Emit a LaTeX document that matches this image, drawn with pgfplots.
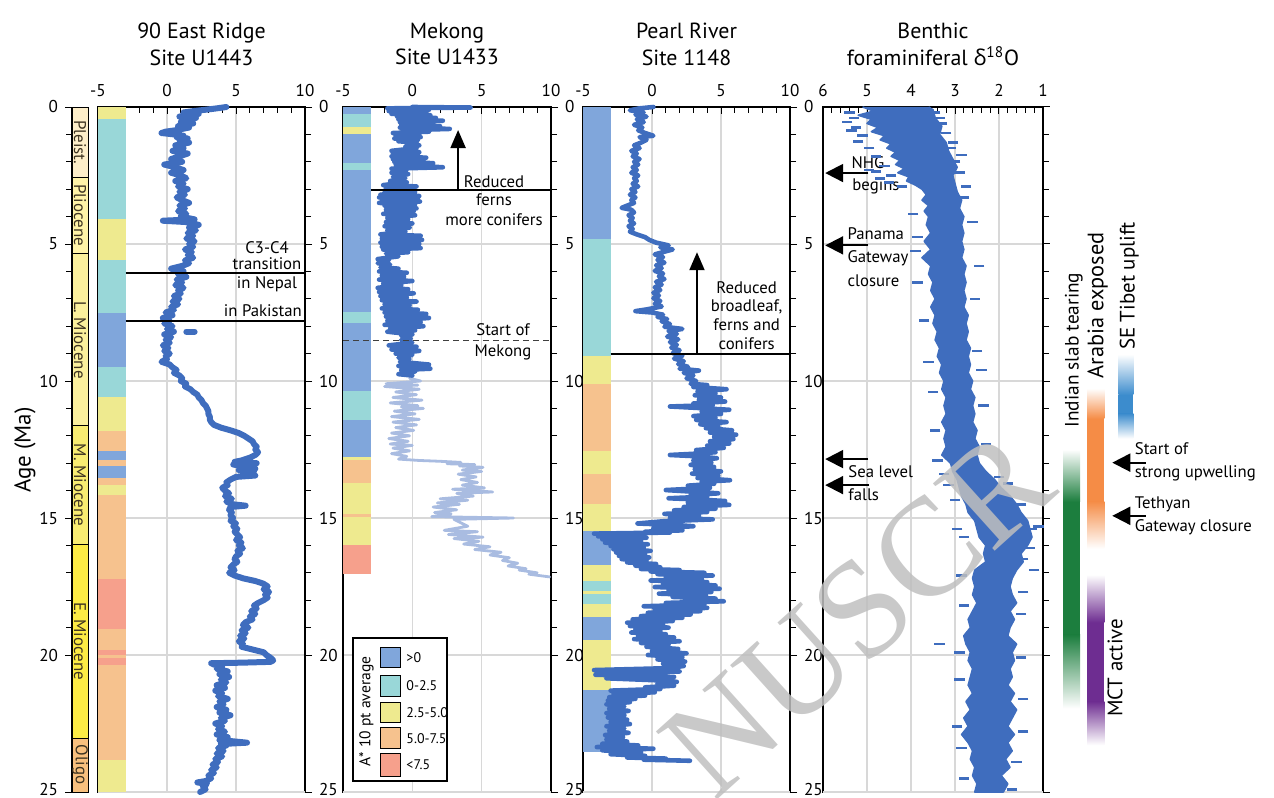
\documentclass[border=0pt]{standalone}
\usepackage{pgfplots}
\pgfplotsset{compat=1.18}
\usepackage{fontspec}
\setmainfont{PT Sans}
\newfontfamily\greekfont{Open Sans}
\newfontfamily\stampfont{Liberation Serif}
\usetikzlibrary{arrows.meta}

% data and A* class colours
\definecolor{dat}{HTML}{3F6DBE}
\definecolor{datlt}{HTML}{A9BCE1}
\definecolor{cBlue}{HTML}{80A6DB}
\definecolor{cTeal}{HTML}{99D7D8}
\definecolor{cYel}{HTML}{EEEA8F}
\definecolor{cOra}{HTML}{F6C28E}
\definecolor{cRed}{HTML}{F6A08C}
\definecolor{gridc}{HTML}{D8D8D8}
% epoch colours
\definecolor{ePle}{HTML}{FDEEC9}
\definecolor{ePli}{HTML}{FFF3A8}
\definecolor{eLM}{HTML}{FBF09D}
\definecolor{eMM}{HTML}{F8EC72}
\definecolor{eEM}{HTML}{FCEB45}
\definecolor{eOli}{HTML}{F8C07E}
\definecolor{epText}{HTML}{3E3422}
% tectonic event bars
\definecolor{tGreen}{HTML}{1C7E3E}
\definecolor{tOrange}{HTML}{F58C46}
\definecolor{tBlue}{HTML}{3C8CCD}
\definecolor{tPurple}{HTML}{6E2D91}

\newcommand\tickfont{\fontsize{8.6}{10}\selectfont}
\newcommand\notefont{\fontsize{8.4}{9.6}\selectfont}
\newcommand\titlefont{\fontsize{11}{13.5}\selectfont}
\newcommand\epochfont{\fontsize{8.5}{9}\selectfont}

\tikzset{note/.style={font=\notefont, inner sep=0pt}}

\pgfplotsset{
  agescale/.style={
    ymin=0, ymax=25, y dir=reverse,
    ytick={0,5,...,20}, minor y tick num=4,
    extra y ticks={25},
    extra y tick style={yticklabel style={yshift=1.5bp}},
  },
  panel/.style={
    scale only axis, width=103.5bp, height=342.5bp,
    anchor=north west, agescale,
    xmin=-5, xmax=10, xtick={-5,0,5,10}, minor x tick num=4,
    xtick pos=right, xticklabel pos=right,
    ytick pos=right, yticklabel pos=right,
    xtick align=inside, ytick align=outside,
    major tick length=3.5bp, minor tick length=3bp,
    tick style={black, line width=0.5bp},
    grid=major, major grid style={gridc, line width=0.6bp},
    axis line style={black, line width=0.9bp},
    tick label style={font=\tickfont},
    /pgf/number format/assume math mode=true,
    xticklabel style={yshift=1.5bp},
    clip=false,
  },
}

% one A* class interval in the strip at the left of a panel
\newcommand\band[3]{\addplot[fill=#1, draw=none, forget plot] coordinates {(-5,#2) (-3,#2) (-3,#3) (-5,#3)};}

\begin{document}
\begin{tikzpicture}

% ---------------- age axis with epochs ----------------
\begin{axis}[
  at={(36bp,345.5bp)}, anchor=north west,
  scale only axis, width=8bp, height=342.5bp,
  xmin=0, xmax=1, agescale,
  hide x axis,
  ytick pos=left, yticklabel pos=left, ytick align=outside,
  major tick length=3.5bp, minor tick length=3bp,
  tick style={black, line width=0.5bp},
  axis line style={black, line width=0.6bp},
  tick label style={font=\tickfont},
  /pgf/number format/assume math mode=true,
  clip=false,
]
\addplot[fill=ePle, draw=black, line width=0.5bp] coordinates {(0,0) (1,0) (1,2.58) (0,2.58) (0,0)};
\addplot[fill=ePli, draw=black, line width=0.5bp] coordinates {(0,2.58) (1,2.58) (1,5.33) (0,5.33) (0,2.58)};
\addplot[fill=eLM, draw=black, line width=0.5bp] coordinates {(0,5.33) (1,5.33) (1,11.63) (0,11.63) (0,5.33)};
\addplot[fill=eMM, draw=black, line width=0.5bp] coordinates {(0,11.63) (1,11.63) (1,15.97) (0,15.97) (0,11.63)};
\addplot[fill=eEM, draw=black, line width=0.5bp] coordinates {(0,15.97) (1,15.97) (1,23.03) (0,23.03) (0,15.97)};
\addplot[fill=eOli, draw=black, line width=0.5bp] coordinates {(0,23.03) (1,23.03) (1,25) (0,25) (0,23.03)};
\node[rotate=-90, font=\epochfont, text=epText] at (axis cs:0.5,1.29) {Pleist.};
\node[rotate=-90, font=\epochfont, text=epText] at (axis cs:0.5,3.95) {Pliocene};
\node[rotate=-90, font=\epochfont, text=epText] at (axis cs:0.5,8.5) {L. Miocene};
\node[rotate=-90, font=\epochfont, text=epText] at (axis cs:0.5,13.8) {M. Miocene};
\node[rotate=-90, font=\epochfont, text=epText] at (axis cs:0.5,19.5) {E. Miocene};
\node[rotate=-90, font=\epochfont, text=epText] at (axis cs:0.5,24.0) {Oligo};
\end{axis}

% ---------------- 90 East Ridge ----------------
\begin{axis}[panel, at={(49bp,345.5bp)}]
\band{cYel}{0}{0.44}
\band{cTeal}{0.44}{4.1}
\band{cYel}{4.1}{5.57}
\band{cTeal}{5.57}{7.53}
\band{cBlue}{7.53}{9.48}
\band{cTeal}{9.48}{10.6}
\band{cYel}{10.6}{11.83}
\band{cOra}{11.83}{12.54}
\band{cBlue}{12.54}{12.9}
\band{cOra}{12.9}{13.1}
\band{cBlue}{13.1}{13.54}
\band{cOra}{13.54}{13.8}
\band{cYel}{13.8}{14.15}
\band{cOra}{14.15}{17.23}
\band{cRed}{17.23}{19.06}
\band{cOra}{19.06}{19.83}
\band{cRed}{19.83}{20.0}
\band{cOra}{20.0}{20.1}
\band{cRed}{20.1}{20.38}
\band{cOra}{20.38}{23.82}
\band{cYel}{23.82}{25}
\addplot[dat, line width=3bp, line join=round, line cap=round] coordinates {
(4.3,0.0) (3.6,0.05) (2.8,0.1) (1.9,0.15) (1.2,0.2) (2.3,0.25) (1.5,0.3) (0.9,0.35) (2.1,0.4) (1.3,0.45)
(1.7,0.5) (1.0,0.55) (1.9,0.6) (1.4,0.65) (0.8,0.7) (1.6,0.75) (1.1,0.8) (0.6,0.85) (-0.1,0.9) (-0.4,0.95)
(0.5,1.0) (1.2,1.05) (0.7,1.1) (1.5,1.15) (0.9,1.2) (1.6,1.3) (0.6,1.4) (1.2,1.5) (0.4,1.6) (1.5,1.7)
(0.9,1.8) (0.3,1.9) (1.1,2.0) (-0.2,2.1) (0.6,2.2) (1.2,2.3) (0.3,2.4) (1.0,2.5) (1.4,2.6) (0.6,2.7)
(1.2,2.8) (0.8,2.9) (1.5,3.0) (0.9,3.1) (1.3,3.2) (0.7,3.3) (1.1,3.4) (1.6,3.5) (0.9,3.6) (1.3,3.7)
(0.8,3.8) (1.4,3.9) (1.0,4.0) (2.0,4.1) (-0.3,4.15) (1.4,4.2) (2.3,4.3) (1.6,4.4) (2.1,4.5) (1.5,4.6)
(1.9,4.7) (1.4,4.8) (2.0,4.9) (1.6,5.0) (1.9,5.1) (1.3,5.2) (1.8,5.3) (1.5,5.4) (1.9,5.5) (1.3,5.6)
(1.6,5.7) (1.1,5.8) (0.3,5.9) (0.6,5.95) (1.2,6.0) (0.8,6.1) (1.4,6.2) (0.7,6.3) (1.1,6.4) (0.6,6.5)
(1.2,6.6) (0.8,6.7) (1.0,6.8) (0.5,6.9) (0.9,7.0) (0.4,7.1) (0.8,7.2) (0.3,7.3) (0.5,7.4) (-0.1,7.5)
(0.4,7.6) (-0.3,7.7) (0.2,7.8) (-0.2,7.9) (0.4,8.0) (0.0,8.1) (0.5,8.2) (-0.2,8.3) (0.3,8.4) (-0.1,8.5)
(0.2,8.6) (-0.3,8.7) (0.1,8.8) (-0.2,8.9) (0.2,9.0) (-0.1,9.1) (0.0,9.2) (-0.4,9.3) (0.2,9.4) (0.4,9.5)
(0.7,9.6) (0.5,9.7) (0.9,9.8) (1.1,9.9) (1.0,10.0) (1.4,10.1) (1.3,10.2) (1.7,10.3) (1.9,10.4) (2.2,10.5)
(2.3,10.6) (2.5,10.7) (2.6,10.8) (2.8,10.9) (2.9,11.0) (3.0,11.1) (3.0,11.2) (3.1,11.3) (3.1,11.4) (3.2,11.5)
(3.4,11.6) (3.9,11.7) (4.6,11.8) (5.2,11.9) (5.6,12.0) (5.9,12.1) (6.2,12.2) (6.3,12.3) (6.5,12.4) (6.4,12.5)
(6.6,12.6) (6.4,12.7) (6.0,12.8) (5.4,12.9) (4.9,12.95) (6.5,13.0) (4.8,13.05) (5.6,13.1) (6.4,13.2) (5.2,13.25)
(6.3,13.3) (5.5,13.4) (6.4,13.45) (5.0,13.5) (4.6,13.6) (4.3,13.7) (4.4,13.8) (4.0,13.9) (4.2,14.0) (4.5,14.1)
(4.2,14.2) (4.7,14.3) (4.3,14.4) (4.8,14.5) (5.7,14.55) (4.6,14.6) (4.5,14.7) (4.7,14.8) (4.6,14.9) (4.8,15.0)
(4.6,15.1) (5.0,15.2) (4.8,15.3) (5.1,15.4) (4.9,15.5) (5.1,15.6) (5.3,15.7) (5.0,15.8) (5.4,15.9) (5.2,16.0)
(5.5,16.1) (5.1,16.2) (5.3,16.3) (5.0,16.4) (4.9,16.5) (5.1,16.6) (4.8,16.7) (4.6,16.8) (4.9,16.9) (4.5,17.0)
(4.9,17.1) (5.5,17.2) (6.4,17.3) (7.0,17.4) (7.3,17.5) (7.0,17.6) (7.4,17.7) (7.1,17.8) (7.3,17.9) (7.0,18.0)
(6.6,18.1) (6.3,18.2) (6.5,18.3) (6.1,18.4) (6.4,18.5) (6.0,18.6) (6.2,18.7) (5.7,18.8) (5.5,18.9) (5.9,19.0)
(5.4,19.1) (5.7,19.2) (5.3,19.3) (5.6,19.4) (5.2,19.5) (5.5,19.6) (5.4,19.7) (6.2,19.8) (7.0,19.9) (7.2,20.0)
(7.5,20.1) (7.7,20.2) (7.5,20.25) (5.4,20.28) (3.2,20.3) (3.4,20.35) (4.0,20.4) (3.6,20.5) (4.4,20.6) (3.8,20.7)
(4.5,20.8) (3.9,20.9) (4.3,21.0) (3.6,21.1) (4.2,21.2) (3.5,21.3) (4.0,21.4) (3.7,21.5) (4.4,21.6) (3.8,21.7)
(4.1,21.8) (3.6,21.9) (4.3,22.0) (3.8,22.1) (4.6,22.2) (3.9,22.3) (4.2,22.4) (3.5,22.5) (4.0,22.6) (3.7,22.7)
(4.2,22.8) (3.6,22.9) (4.4,23.0) (3.8,23.1) (5.8,23.2) (3.9,23.25) (4.3,23.3) (3.7,23.4) (4.1,23.5) (3.6,23.6)
(4.0,23.7) (3.5,23.8) (3.7,23.9) (3.3,24.0) (3.6,24.1) (3.2,24.2) (3.4,24.3) (3.0,24.4) (3.2,24.5) (2.8,24.6)
(2.2,24.65) (2.9,24.7) (2.6,24.8) (2.8,24.9) (2.4,25.0)};
\addplot[dat, line width=3bp, line cap=round] coordinates {(1.4,8.2) (2.0,8.2)};
\draw[line width=1bp] (axis cs:-3,6.05) -- (axis cs:10,6.05);
\draw[line width=1bp] (axis cs:-3,7.8) -- (axis cs:10,7.8);
\node[note, anchor=base] at (axis cs:7.25,5.36) {C3-C4};
\node[note, anchor=base] at (axis cs:7.25,5.92) {transition};
\node[note, anchor=base] at (axis cs:7.25,6.63) {in Nepal};
\node[note, anchor=base east] at (axis cs:9.8,7.65) {in Pakistan};
\end{axis}

% ---------------- Mekong ----------------
\begin{axis}[panel, at={(171.5bp,345.5bp)}, width=104bp]
\band{cBlue}{0}{0.25}
\band{cTeal}{0.25}{0.72}
\band{cYel}{0.72}{1.0}
\band{cBlue}{1.0}{2.05}
\band{cTeal}{2.05}{2.3}
\band{cBlue}{2.3}{7.48}
\band{cTeal}{7.48}{7.9}
\band{cBlue}{7.9}{10.38}
\band{cTeal}{10.38}{11.42}
\band{cBlue}{11.42}{12.78}
\band{cYel}{12.78}{12.9}
\band{cOra}{12.9}{13.72}
\band{cYel}{13.72}{14.85}
\band{cOra}{14.85}{14.95}
\band{cYel}{14.95}{15.97}
\band{cRed}{15.97}{17.04}
\addplot[datlt, line width=1.4bp, line join=round, line cap=round] coordinates {
(-0.2,9.9) (0.6,10.0) (-1.9,10.1) (0.4,10.15) (-2.0,10.2) (0.5,10.3) (-1.2,10.4) (0.3,10.5) (-1.4,10.6) (0.7,10.7)
(-1.6,10.8) (0.4,10.9) (-0.8,10.95) (0.8,11.0) (-1.3,11.1) (0.2,11.2) (-1.5,11.3) (0.5,11.4) (-1.4,11.5) (0.3,11.6)
(-1.2,11.7) (0.1,11.8) (-1.5,11.9) (-0.2,12.0) (-1.7,12.1) (-0.3,12.2) (-1.6,12.3) (0.0,12.35) (-1.4,12.45) (-0.2,12.55)
(-1.5,12.65) (-0.4,12.75) (-1.0,12.85) (0.5,12.9) (2.0,12.93) (3.5,12.97) (2.5,13.02) (4.5,13.05) (3.4,13.1) (5.1,13.15)
(3.6,13.25) (5.0,13.3) (3.3,13.4) (4.6,13.5) (3.5,13.6) (4.7,13.7) (3.6,13.8) (5.2,13.9) (2.9,13.95) (5.8,14.05)
(3.2,14.1) (4.4,14.2) (2.0,14.3) (4.0,14.35) (1.8,14.45) (3.4,14.5) (1.5,14.6) (3.2,14.7) (1.6,14.8) (2.8,14.85)
(1.4,14.95) (7.3,15.0) (3.0,15.05) (4.0,15.3) (2.3,15.45) (4.7,15.5) (2.6,15.6) (5.1,15.7) (3.0,15.75) (4.8,15.85)
(3.7,15.95) (5.6,16.05) (4.5,16.15) (6.4,16.25) (5.6,16.35) (7.0,16.45) (6.5,16.55) (7.6,16.65) (6.9,16.75) (8.2,16.85)
(7.7,16.9) (9.0,17.0) (8.4,17.05) (9.9,17.15)};
\addplot[dat, line width=2.3bp, line join=round, line cap=round] coordinates {
(0,0) (4.2,0.02) (-1.8,0.05) (1.2,0.1) (-1.7,0.15) (1.0,0.2) (-1.5,0.25) (1.3,0.3) (-1.1,0.35) (1.7,0.4)
(-1.0,0.45) (2.2,0.5) (-0.9,0.55) (1.5,0.6) (-0.8,0.65) (2.0,0.7) (-0.9,0.75) (2.7,0.8) (-0.7,0.85) (1.2,0.9)
(-1.4,0.95) (0.5,1.0) (-1.2,1.05) (0.6,1.1) (-1.3,1.15) (0.4,1.2) (-1.0,1.25) (0.3,1.3) (-0.4,1.35) (0.5,1.4)
(-0.5,1.45) (0.3,1.5) (-1.5,1.6) (0.5,1.65) (-1.4,1.7) (0.4,1.75) (-1.5,1.8) (1.0,1.85) (-1.4,1.9) (0.8,1.95)
(-1.3,2.0) (1.5,2.05) (-1.2,2.1) (2.2,2.2) (-1.5,2.25) (-0.4,2.3) (-1.5,2.4) (-0.3,2.45) (-1.4,2.55) (-0.5,2.6)
(-1.6,2.7) (-0.4,2.75) (-2.1,2.85) (0.3,2.9) (-1.9,2.95) (0.1,3.0) (-2.0,3.05) (0.2,3.1) (-2.3,3.2) (0.5,3.25)
(-2.4,3.3) (0.4,3.35) (-2.2,3.4) (0.55,3.45) (-2.4,3.5) (0.2,3.55) (-2.0,3.6) (0.3,3.7) (-1.9,3.75) (0.1,3.8)
(-2.1,3.9) (0.2,3.95) (-1.8,4.05) (-0.3,4.1) (-1.9,4.2) (0.0,4.25) (-2.0,4.35) (-0.2,4.4) (-1.8,4.5) (-0.5,4.55)
(-2.3,4.65) (0.6,4.7) (-2.2,4.8) (0.7,4.85) (-2.3,4.95) (0.5,5.0) (-2.2,5.1) (0.6,5.15) (-2.1,5.2) (-0.3,5.3)
(-1.9,5.35) (-1.0,5.45) (-2.5,5.55) (-1.7,5.6) (-2.5,5.7) (-1.6,5.75) (-2.3,5.85) (-1.0,5.9) (-2.4,6.0) (-0.4,6.05)
(-2.2,6.15) (-0.6,6.2) (-2.4,6.3) (0.0,6.35) (-2.1,6.45) (-0.8,6.5) (-2.5,6.6) (-0.3,6.65) (-2.4,6.75) (0.1,6.8)
(-2.3,6.9) (-0.4,6.95) (-2.2,7.05) (0.3,7.1) (-2.0,7.2) (-0.2,7.25) (-2.2,7.35) (0.4,7.4) (-2.0,7.5) (1.0,7.55)
(-1.9,7.65) (1.2,7.7) (-1.8,7.8) (0.6,7.85) (-2.0,7.95) (0.8,8.0) (-1.6,8.1) (0.2,8.15) (-1.8,8.2) (0.0,8.3)
(-0.8,8.35) (-0.1,8.45) (-0.8,8.5) (0.0,8.6) (-1.7,8.7) (0.3,8.75) (-1.5,8.85) (0.5,8.9) (-1.2,9.0) (0.0,9.05)
(-1.0,9.15) (-0.2,9.2) (-0.9,9.3) (1.2,9.4) (-1.0,9.45) (1.3,9.55) (-0.8,9.6) (0.2,9.65) (-1.0,9.75) (0.0,9.8)};
\draw[line width=1bp] (axis cs:-3,3.03) -- (axis cs:10,3.03);
\draw[line width=1bp, -{Triangle[length=9bp,width=7.5bp]}] (axis cs:3.3,3.03) -- (axis cs:3.3,0.84);
\node[note, anchor=base] at (axis cs:5.89,2.92) {Reduced};
\node[note, anchor=base] at (axis cs:5.89,3.61) {ferns};
\node[note, anchor=base] at (axis cs:5.89,4.31) {more conifers};
\draw[line width=0.7bp, black!75, dash pattern=on 3bp off 2bp] (axis cs:-5,8.53) -- (axis cs:10,8.53);
\node[note, anchor=base] at (axis cs:6.54,8.34) {Start of};
\node[note, anchor=base] at (axis cs:6.54,9.09) {Mekong};
% A* legend
\draw[black, line width=0.6bp, fill=white] (axis cs:-4.28,19.38) rectangle (axis cs:2.5,24.6);
\node[rotate=90, font=\fontsize{7.8}{9}\selectfont] at (axis cs:-3.3,22.06) {A* 10 pt average};
\draw[fill=cBlue, line width=0.5bp] (axis cs:-2.33,19.74) rectangle (axis cs:-0.82,20.44);
\draw[fill=cTeal, line width=0.5bp] (axis cs:-2.33,20.73) rectangle (axis cs:-0.82,21.5);
\draw[fill=cYel, line width=0.5bp] (axis cs:-2.33,21.72) rectangle (axis cs:-0.82,22.48);
\draw[fill=cOra, line width=0.5bp] (axis cs:-2.33,22.66) rectangle (axis cs:-0.82,23.43);
\draw[fill=cRed, line width=0.5bp] (axis cs:-2.33,23.61) rectangle (axis cs:-0.82,24.42);
\node[anchor=west, inner sep=0pt, font=\fontsize{7}{8}\selectfont] at (axis cs:-0.45,20.09) {>0};
\node[anchor=west, inner sep=0pt, font=\fontsize{7}{8}\selectfont] at (axis cs:-0.45,21.11) {0-2.5};
\node[anchor=west, inner sep=0pt, font=\fontsize{7}{8}\selectfont] at (axis cs:-0.45,22.1) {2.5-5.0};
\node[anchor=west, inner sep=0pt, font=\fontsize{7}{8}\selectfont] at (axis cs:-0.45,23.05) {5.0-7.5};
\node[anchor=west, inner sep=0pt, font=\fontsize{7}{8}\selectfont] at (axis cs:-0.45,24.0) {<7.5};
\end{axis}

% ---------------- Pearl River ----------------
\begin{axis}[panel, at={(291.5bp,345.5bp)}]
\band{cBlue}{0}{4.8}
\band{cTeal}{4.8}{9.1}
\band{cYel}{9.1}{10.1}
\band{cOra}{10.1}{12.55}
\band{cYel}{12.55}{13.4}
\band{cOra}{13.4}{14.5}
\band{cYel}{14.5}{15.47}
\band{cBlue}{15.47}{16.7}
\band{cYel}{16.7}{17.3}
\band{cTeal}{17.3}{17.67}
\band{cYel}{17.67}{17.78}
\band{cTeal}{17.78}{18.13}
\band{cYel}{18.13}{18.62}
\band{cBlue}{18.62}{19.47}
\band{cYel}{19.47}{21.28}
\band{cBlue}{21.28}{23.53}
\addplot[dat, line width=2.3bp, line join=round, line cap=round] coordinates {
(0.1,0.0) (-0.9,0.05) (-1.6,0.12) (-0.6,0.2) (-1.2,0.28) (-0.4,0.35) (-1.1,0.45) (-0.6,0.55) (-1.3,0.65) (-0.7,0.75)
(-1.0,0.85) (-0.5,0.95) (0.1,1.05) (-0.9,1.1) (-0.4,1.2) (-0.8,1.3) (-1.3,1.4) (-0.9,1.5) (-1.5,1.6) (-1.1,1.7)
(-1.4,1.8) (-0.9,1.9) (-1.3,2.0) (-1.0,2.1) (-1.4,2.2) (-1.1,2.3) (-1.5,2.4) (-1.0,2.5) (-1.3,2.6) (-1.1,2.7)
(-1.4,2.8) (-1.0,2.9) (-1.5,3.0) (-1.2,3.1) (-1.6,3.2) (-1.2,3.3) (-1.5,3.4) (-1.3,3.5) (-1.8,3.6) (-2.2,3.68)
(-1.5,3.75) (-1.3,3.85) (-1.7,3.95) (-1.4,4.05) (-1.6,4.15) (-1.3,4.25) (-1.7,4.35) (-1.4,4.45) (-1.6,4.55) (-1.1,4.65)
(-0.5,4.75) (-0.2,4.85) (0.3,4.95) (1.2,5.05) (0.6,5.12) (1.5,5.2) (0.9,5.28) (0.2,5.38) (0.8,5.48) (0.4,5.58)
(0.9,5.68) (0.3,5.78) (0.7,5.88) (0.2,5.98) (0.8,6.08) (0.5,6.18) (0.9,6.28) (0.3,6.38) (0.7,6.48) (0.2,6.58)
(0.6,6.68) (0.1,6.78) (0.5,6.88) (0.1,6.98) (0.6,7.08) (0.2,7.18) (0.7,7.28) (-0.3,7.38) (-1.2,7.45) (0.0,7.5)
(0.8,7.58) (0.4,7.66) (1.1,7.74) (0.7,7.82) (1.3,7.92) (0.9,8.02) (2.2,8.1) (1.2,8.18) (1.8,8.28) (1.1,8.38)
(1.9,8.48) (1.3,8.58) (1.8,8.68) (1.4,8.78) (2.0,8.88) (1.5,8.98) (2.2,9.08) (1.6,9.18) (2.3,9.28) (1.9,9.38)
(2.6,9.48) (2.0,9.55) (3.4,9.62) (2.3,9.7) (3.0,9.8) (2.5,9.9) (3.2,10.0) (2.8,10.1) (4.0,10.15) (3.0,10.22)
(5.4,10.3) (3.3,10.38) (4.6,10.45) (3.1,10.52) (5.0,10.6) (3.4,10.68) (5.3,10.75) (3.0,10.82) (4.4,10.88) (1.3,10.93)
(3.2,10.98) (5.6,11.05) (3.6,11.12) (5.0,11.2) (3.0,11.28) (4.6,11.35) (3.2,11.42) (5.4,11.5) (3.5,11.58) (4.8,11.65)
(3.9,11.72) (5.8,11.8) (4.2,11.88) (6.1,11.96) (4.5,12.04) (5.9,12.12) (4.2,12.2) (5.6,12.28) (4.0,12.36) (5.2,12.44)
(3.2,12.52) (4.6,12.6) (2.9,12.66) (1.3,12.7) (3.4,12.75) (4.7,12.82) (3.0,12.9) (4.3,12.98) (2.8,13.06) (4.5,13.14)
(3.1,13.22) (5.0,13.3) (2.9,13.38) (4.8,13.46) (3.3,13.54) (5.65,13.62) (3.6,13.68) (4.5,13.75) (2.6,13.82) (4.2,13.9)
(1.0,13.98) (3.0,14.04) (4.8,14.1) (2.8,14.16) (4.0,14.22) (1.2,14.28) (3.2,14.32) (5.3,14.38) (2.6,14.44) (5.6,14.52)
(2.3,14.6) (4.6,14.66) (1.6,14.72) (4.0,14.78) (0.9,14.85) (3.4,14.92) (1.3,15.0) (4.4,15.05) (0.8,15.12) (-1.05,15.2)
(1.5,15.25) (3.0,15.3) (0.1,15.38) (2.2,15.45) (-0.5,15.5) (1.3,15.53) (-4.2,15.57) (-1.0,15.62) (-3.9,15.67) (-0.4,15.72)
(-3.6,15.78) (-0.8,15.84) (-3.4,15.9) (-0.3,15.96) (-3.0,16.02) (-0.6,16.08) (-2.8,16.14) (-0.1,16.2) (-2.6,16.26) (-0.5,16.32)
(-2.4,16.38) (-0.2,16.44) (-2.2,16.5) (-0.4,16.56) (-1.8,16.62) (0.3,16.68) (-1.2,16.74) (0.6,16.8) (-0.8,16.86) (2.0,16.9)
(-0.1,16.95) (3.8,17.0) (0.4,17.05) (4.4,17.1) (1.0,17.16) (3.6,17.22) (-0.1,17.28) (4.0,17.34) (0.8,17.4) (4.6,17.46)
(0.2,17.52) (4.9,17.58) (1.2,17.64) (4.3,17.7) (0.5,17.76) (3.9,17.82) (1.5,17.88) (4.6,17.94) (2.4,18.0) (5.2,18.04)
(1.0,18.1) (3.8,18.16) (-0.6,18.22) (4.0,18.28) (0.2,18.34) (3.5,18.4) (-0.3,18.46) (2.8,18.52) (-0.8,18.58) (2.2,18.64)
(-1.4,18.7) (1.5,18.76) (-1.8,18.82) (0.8,18.88) (-1.6,18.94) (1.2,19.0) (-1.2,19.06) (0.6,19.12) (-1.5,19.18) (1.0,19.24)
(-1.0,19.3) (1.6,19.36) (-1.3,19.42) (2.0,19.5) (-0.8,19.56) (1.2,19.62) (-0.4,19.7) (1.9,19.78) (0.0,19.86) (2.5,19.94)
(-0.3,20.0) (2.2,20.08) (0.4,20.16) (2.4,20.24) (0.8,20.32) (2.3,20.4) (1.2,20.48) (-4.2,20.55) (2.0,20.6) (-3.6,20.66)
(-4.1,20.72) (1.6,20.8) (-3.3,20.85) (0.2,20.92) (1.8,20.98) (0.4,21.05) (1.6,21.12) (-0.5,21.18) (0.6,21.24) (-3.0,21.3)
(0.2,21.36) (-2.8,21.42) (-0.5,21.48) (-3.1,21.54) (-1.2,21.6) (-3.2,21.66) (-1.6,21.72) (-3.3,21.8) (-2.0,21.88) (-3.1,21.96)
(-1.7,22.04) (-3.3,22.12) (-2.0,22.2) (-3.2,22.28) (-1.8,22.36) (-3.0,22.44) (-1.6,22.52) (-3.3,22.6) (-2.0,22.68) (-3.1,22.76)
(-1.7,22.84) (-3.4,22.92) (-2.1,23.0) (-3.3,23.08) (-1.8,23.16) (-3.6,23.24) (-1.0,23.3) (-4.0,23.36) (0.1,23.42) (-3.6,23.48)
(-0.8,23.55) (-3.0,23.62) (-0.5,23.68) (-1.8,23.74) (1.0,23.78) (-0.6,23.82) (2.75,23.86)};
\draw[line width=1bp] (axis cs:-3,9.03) -- (axis cs:10,9.03);
\draw[line width=1bp, -{Triangle[length=9bp,width=7.5bp]}] (axis cs:3.26,9.03) -- (axis cs:3.26,5.3);
\node[note, anchor=base] at (axis cs:6.86,6.79) {Reduced};
\node[note, anchor=base] at (axis cs:6.86,7.45) {broadleaf,};
\node[note, anchor=base] at (axis cs:6.86,8.14) {ferns and};
\node[note, anchor=base] at (axis cs:6.86,8.84) {conifers};
\end{axis}

% ---------------- benthic d18O ----------------
\begin{axis}[panel, at={(411.5bp,345.5bp)}, width=110bp,
  xmin=1, xmax=6, x dir=reverse, xtick={1,2,3,4,5,6}, minor x tick num=4,
  yticklabels={}, extra y tick labels={}]
% dense core of the record
\addplot[fill=dat, draw=dat, line width=0.8bp, line join=round] coordinates {
(5.1,0) (4.85,0.15) (5.2,0.3) (4.9,0.45) (5.0,0.6) (4.75,0.75) (4.9,0.9) (4.6,1.05) (4.7,1.2) (4.45,1.35)
(4.55,1.5) (4.35,1.65) (4.45,1.8) (4.25,1.95) (4.35,2.1) (4.15,2.25) (4.3,2.4) (4.05,2.55) (4.1,2.7) (3.9,2.85)
(3.75,3.0) (3.65,3.2) (3.75,3.4) (3.6,3.6) (3.7,3.8) (3.6,4.0) (3.65,4.3) (3.55,4.6) (3.7,4.9) (3.55,5.2)
(3.75,5.5) (3.55,5.8) (3.6,6.1) (3.5,6.4) (3.55,6.7) (3.45,7.0) (3.55,7.3) (3.45,7.6) (3.5,7.9) (3.4,8.2)
(3.45,8.5) (3.35,8.8) (3.4,9.1) (3.3,9.4) (3.35,9.7) (3.25,10.0) (3.3,10.3) (3.2,10.6) (3.25,10.9) (3.2,11.2)
(3.3,11.5) (3.2,11.8) (3.25,12.1) (3.2,12.4) (3.3,12.7) (3.1,13.0) (3.05,13.3) (2.95,13.6) (2.9,13.9) (2.85,14.2)
(2.75,14.5) (2.7,14.8) (2.55,15.1) (2.5,15.4) (2.45,15.7) (2.3,16.0) (2.35,16.3) (2.3,16.6) (2.55,16.9) (2.6,17.2)
(2.55,17.5) (2.6,17.8) (2.5,18.1) (2.6,18.4) (2.7,18.7) (2.65,19.0) (2.8,19.3) (2.75,19.6) (2.65,19.9) (2.7,20.2)
(2.6,20.5) (2.65,20.8) (2.7,21.1) (2.6,21.4) (2.75,21.7) (2.65,22.0) (2.8,22.3) (2.7,22.6) (2.85,22.9) (2.7,23.2)
(2.6,23.5) (2.65,23.8) (2.55,24.1) (2.6,24.4) (2.5,24.7) (2.55,25.0)
(1.9,25.0) (1.8,24.7) (1.95,24.4) (1.75,24.1) (1.85,23.8) (1.7,23.5) (1.8,23.2) (1.65,22.9) (1.8,22.6) (1.7,22.3)
(1.6,22.0) (1.75,21.7) (1.65,21.4) (1.8,21.1) (1.7,20.8) (1.75,20.5) (1.65,20.2) (1.7,19.9) (1.6,19.6) (1.8,19.3)
(1.75,19.0) (1.65,18.7) (1.75,18.4) (1.6,18.1) (1.7,17.8) (1.75,17.5) (1.7,17.2) (1.6,16.9) (1.45,16.6) (1.5,16.3)
(1.35,16.0) (1.25,15.7) (1.3,15.4) (1.35,15.1) (1.5,14.8) (1.6,14.5) (1.75,14.2) (1.95,13.9) (2.1,13.6) (2.3,13.3)
(2.45,13.0) (2.5,12.7) (2.45,12.4) (2.55,12.1) (2.5,11.8) (2.6,11.5) (2.55,11.2) (2.6,10.9) (2.55,10.6) (2.65,10.3)
(2.6,10.0) (2.7,9.7) (2.65,9.4) (2.7,9.1) (2.65,8.8) (2.75,8.5) (2.7,8.2) (2.75,7.9) (2.7,7.6) (2.8,7.3)
(2.75,7.0) (2.8,6.7) (2.75,6.4) (2.8,6.1) (2.75,5.8) (2.85,5.5) (2.8,5.2) (2.85,4.9) (2.8,4.6) (2.85,4.3)
(2.8,4.0) (2.9,3.7) (2.85,3.4) (2.95,3.1) (3.0,2.8) (3.05,2.5) (2.95,2.2) (3.05,1.9) (3.15,1.6) (3.2,1.3)
(3.35,1.0) (3.3,0.7) (3.45,0.4) (3.5,0.1) (3.6,0.0)};
% scattered samples outside the core
\addplot[dat, only marks, mark=-, mark size=2.6bp, mark options={line width=1.3bp}] coordinates {
(5.4,0.2) (5.3,0.4) (5.45,0.55) (5.25,0.75) (5.35,0.85) (5.1,1.05) (5.2,1.25) (4.95,1.5) (4.8,1.8) (4.6,2.15)
(4.95,2.3) (4.8,2.35) (4.45,2.5) (4.7,2.62) (4.5,2.75) (4.2,2.9) (3.45,0.2) (3.35,0.4) (3.3,0.6) (3.2,0.95)
(3.05,1.3) (3.1,1.5) (2.85,1.75) (3.0,2.0) (2.9,2.4) (2.75,2.9) (2.8,3.3) (3.95,3.9) (3.85,4.75) (3.9,5.25)
(2.45,5.8) (2.6,4.2) (3.85,6.4) (2.55,7.0) (3.7,7.8) (2.5,8.9) (2.4,9.6) (3.6,9.3) (3.5,10.4) (2.35,10.9)
(3.45,11.8) (2.3,12.3) (3.4,12.9) (3.25,13.4) (2.0,13.5) (3.15,13.8) (1.8,13.75) (1.5,14.5) (3.0,14.35) (1.25,15.4)
(1.1,15.3) (2.95,15.4) (2.8,15.7) (1.3,16.1) (1.45,16.5) (1.2,16.9) (2.85,17.1) (1.45,17.7) (2.8,18.2) (1.5,18.5)
(3.35,19.6) (2.9,19.9) (1.5,20.1) (2.9,20.9) (1.45,21.6) (2.95,22.6) (1.45,22.8) (2.85,23.4) (1.6,23.9) (2.8,24.5)
(1.7,24.9)};
% climate events
\draw[line width=1bp, -{Triangle[length=9bp,width=9bp]}] (axis cs:4.97,2.41) -- (axis cs:5.95,2.41);
\node[note, anchor=base west] at (axis cs:5.36,2.24) {NHG};
\node[note, anchor=base west] at (axis cs:5.34,3.05) {begins};
\draw[line width=1bp, -{Triangle[length=9bp,width=9bp]}] (axis cs:4.97,5.05) -- (axis cs:5.95,5.05);
\node[note, anchor=base west] at (axis cs:5.45,4.84) {Panama};
\node[note, anchor=base west] at (axis cs:5.45,5.67) {Gateway};
\node[note, anchor=base west] at (axis cs:5.45,6.54) {closure};
\draw[line width=1bp, -{Triangle[length=9bp,width=9bp]}] (axis cs:4.97,12.85) -- (axis cs:5.95,12.85);
\draw[line width=1bp, -{Triangle[length=9bp,width=9bp]}] (axis cs:4.95,13.8) -- (axis cs:5.95,13.8);
\node[note, anchor=base west] at (axis cs:5.43,13.53) {Sea level};
\node[note, anchor=base west] at (axis cs:5.43,14.37) {falls};
% tectonic events
\fill[tGreen] (axis cs:0.543,14.4) rectangle (axis cs:0.155,19.27);
\shade[top color=white, bottom color=tGreen] (axis cs:0.543,12.5) rectangle (axis cs:0.155,14.41);
\shade[top color=tGreen, bottom color=white] (axis cs:0.543,19.26) rectangle (axis cs:0.155,21.95);
\fill[tOrange] (axis cs:-0.005,11.37) rectangle (axis cs:-0.393,14.4);
\shade[top color=white, bottom color=tOrange] (axis cs:-0.005,10.27) rectangle (axis cs:-0.393,11.38);
\shade[top color=tOrange, bottom color=white] (axis cs:-0.005,14.39) rectangle (axis cs:-0.393,16.12);
\fill[tBlue] (axis cs:-0.712,10.5) rectangle (axis cs:-1.055,11.2);
\shade[top color=white, bottom color=tBlue] (axis cs:-0.712,9.03) rectangle (axis cs:-1.055,10.51);
\shade[top color=tBlue, bottom color=white] (axis cs:-0.712,11.19) rectangle (axis cs:-1.055,12.1);
\fill[tPurple] (axis cs:-0.005,18.8) rectangle (axis cs:-0.393,21.7);
\shade[top color=white, bottom color=tPurple] (axis cs:-0.005,17.07) rectangle (axis cs:-0.393,18.81);
\shade[top color=tPurple, bottom color=white] (axis cs:-0.005,21.69) rectangle (axis cs:-0.393,23.29);
\node[rotate=90, font=\fontsize{9.7}{11}\selectfont, inner sep=0pt] at (axis cs:0.30,8.87) {Indian slab tearing};
\node[rotate=90, font=\fontsize{11.2}{12}\selectfont, inner sep=0pt] at (axis cs:-0.245,7.24) {Arabia exposed};
\node[rotate=90, font=\fontsize{10.5}{12}\selectfont, inner sep=0pt] at (axis cs:-0.96,6.54) {SE Tibet uplift};
\node[rotate=90, font=\fontsize{10.5}{12}\selectfont, inner sep=0pt] at (axis cs:-0.64,20.47) {MCT active};
\draw[line width=1bp, -{Triangle[length=9bp,width=9bp]}] (axis cs:-1.33,12.98) -- (axis cs:-0.575,12.98);
\node[note, anchor=base west] at (axis cs:-1.08,12.7) {Start of};
\node[note, anchor=base west] at (axis cs:-1.08,13.53) {strong upwelling};
\draw[line width=1bp, -{Triangle[length=9bp,width=9bp]}] (axis cs:-1.33,14.92) -- (axis cs:-0.575,14.92);
\node[note, anchor=base west] at (axis cs:-1.08,14.66) {Tethyan};
\node[note, anchor=base west] at (axis cs:-1.08,15.5) {Gateway closure};
\end{axis}

% panel titles
\node[font=\titlefont, align=center] at (100.75bp,377bp) {90 East Ridge\\Site U1443};
\node[font=\titlefont, align=center] at (223.5bp,377bp) {Mekong\\Site U1433};
\node[font=\titlefont, align=center] at (343.25bp,377bp) {Pearl River\\Site 1148};
\node[font=\titlefont, align=center] at (466.5bp,377bp) {Benthic\\foraminiferal {\greekfont δ}\textsuperscript{18}O};
\node[rotate=90, font=\fontsize{11.5}{13}\selectfont] at (12.5bp,174bp) {Age (Ma)};

% manuscript stamp
\node[overlay, rotate=42, anchor=base west, inner sep=0pt, text=black!25, opacity=0.85,
      font=\stampfont\fontsize{70}{72}\selectfont] at (357.25bp,-2.6bp) {NUSCR};

\pgfresetboundingbox
\path[use as bounding box] (0,0) rectangle (637bp,399bp);
\end{tikzpicture}
\end{document}
